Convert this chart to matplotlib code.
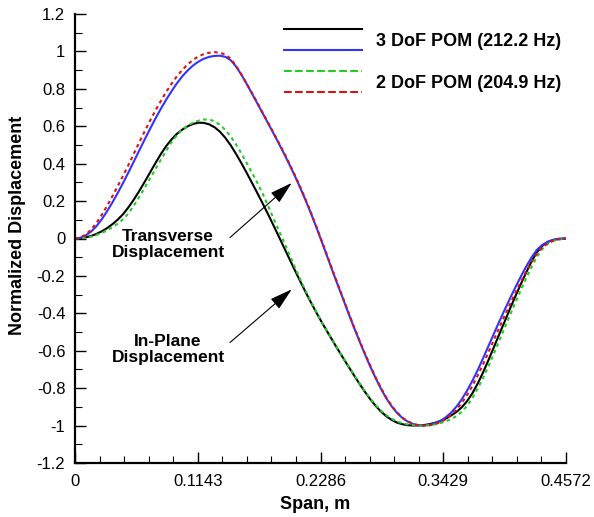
import matplotlib
matplotlib.use("Agg")
import matplotlib.pyplot as plt
from matplotlib.legend_handler import HandlerBase
from matplotlib.lines import Line2D
from matplotlib.ticker import MultipleLocator, FixedLocator

plt.rcParams['font.family'] = ['Liberation Sans', 'DejaVu Sans']

# ---------------- data ----------------
x_ticks = [0, 0.1143, 0.2286, 0.3429, 0.4572]
x_tick_labels = ["0", "0.1143", "0.2286", "0.3429", "0.4572"]
y_ticks = [-1.2, -1.0, -0.8, -0.6, -0.4, -0.2, 0, 0.2, 0.4, 0.6, 0.8, 1.0, 1.2]
y_tick_labels = ["-1.2", "-1", "-0.8", "-0.6", "-0.4", "-0.2", "0", "0.2", "0.4", "0.6", "0.8", "1", "1.2"]

# span positions (m)
span = [0.000, 0.005, 0.010, 0.015, 0.020, 0.025, 0.030, 0.035, 0.040, 0.045,
        0.050, 0.055, 0.060, 0.065, 0.070, 0.075, 0.080, 0.085, 0.090, 0.095,
        0.100, 0.105, 0.110, 0.115, 0.120, 0.125, 0.130, 0.135, 0.140, 0.145,
        0.150, 0.155, 0.160, 0.165, 0.170, 0.175, 0.180, 0.185, 0.190, 0.195,
        0.200, 0.205, 0.210, 0.215, 0.220, 0.225, 0.230, 0.235, 0.240, 0.245,
        0.250, 0.255, 0.260, 0.265, 0.270, 0.275, 0.280, 0.285, 0.290, 0.295,
        0.300, 0.305, 0.310, 0.315, 0.320, 0.325, 0.330, 0.335, 0.340, 0.345,
        0.350, 0.355, 0.360, 0.365, 0.370, 0.375, 0.380, 0.385, 0.390, 0.395,
        0.400, 0.405, 0.410, 0.415, 0.420, 0.425, 0.430, 0.435, 0.440, 0.445,
        0.450, 0.4572]

# 3 DoF transverse (blue)
y_3t = [0.000, 0.004, 0.0165, 0.037, 0.066, 0.103, 0.147, 0.1945, 0.2455, 0.2995,
        0.356, 0.414, 0.4725, 0.5305, 0.587, 0.642, 0.694, 0.743, 0.788, 0.8305,
        0.8675, 0.899, 0.925, 0.9455, 0.961, 0.971, 0.976, 0.977, 0.971, 0.953,
        0.919, 0.875, 0.825, 0.7725, 0.7195, 0.6665, 0.6135, 0.560, 0.5055, 0.4495,
        0.3915, 0.331, 0.2675, 0.2005, 0.130, 0.056, -0.0205, -0.0985, -0.1765, -0.2535,
        -0.3285, -0.405, -0.479, -0.550, -0.619, -0.685, -0.747, -0.804, -0.855, -0.898,
        -0.933, -0.960, -0.979, -0.992, -0.999, -1.000, -0.9965, -0.9885, -0.9755, -0.957,
        -0.932, -0.900, -0.8605, -0.814, -0.761, -0.7035, -0.640, -0.575, -0.5095, -0.445,
        -0.382, -0.321, -0.262, -0.205, -0.151, -0.102, -0.061, -0.035, -0.018, -0.008,
        -0.002, 0.000]

# 2 DoF transverse (red, dashed)
y_2t = [0.000, 0.005, 0.021, 0.047, 0.083, 0.127, 0.176, 0.228, 0.282, 0.338,
        0.396, 0.456, 0.516, 0.574, 0.631, 0.685, 0.736, 0.784, 0.828, 0.868,
        0.902, 0.931, 0.955, 0.973, 0.986, 0.993, 0.996, 0.993, 0.983, 0.961,
        0.923, 0.876, 0.826, 0.776, 0.723, 0.670, 0.617, 0.564, 0.5095, 0.4535,
        0.3955, 0.335, 0.2715, 0.2045, 0.134, 0.060, -0.0165, -0.0945, -0.1725, -0.2495,
        -0.3245, -0.401, -0.475, -0.546, -0.615, -0.681, -0.743, -0.800, -0.852, -0.895,
        -0.931, -0.958, -0.978, -0.991, -0.998, -1.000, -0.9985, -0.993, -0.983, -0.966,
        -0.945, -0.916, -0.880, -0.8375, -0.788, -0.732, -0.672, -0.608, -0.542, -0.477,
        -0.4135, -0.3515, -0.2915, -0.2335, -0.178, -0.1265, -0.0815, -0.048, -0.026, -0.013,
        -0.005, 0.000]

# 3 DoF in-plane (black)
y_3i = [0.000, 0.0015, 0.006, 0.0135, 0.0245, 0.0385, 0.056, 0.077, 0.102, 0.1315,
        0.1685, 0.210, 0.2555, 0.304, 0.354, 0.404, 0.452, 0.4945, 0.5305, 0.560,
        0.5825, 0.600, 0.6125, 0.619, 0.618, 0.610, 0.5945, 0.5705, 0.538, 0.498,
        0.452, 0.402, 0.3495, 0.2955, 0.2405, 0.1845, 0.127, 0.068, 0.008, -0.0525,
        -0.113, -0.173, -0.232, -0.2895, -0.345, -0.3985, -0.4495, -0.499, -0.5475, -0.595,
        -0.6415, -0.6875, -0.733, -0.7775, -0.820, -0.8595, -0.895, -0.9255, -0.9505, -0.970,
        -0.9845, -0.993, -0.998, -1.000, -0.999, -0.997, -0.9925, -0.9855, -0.976, -0.9635,
        -0.947, -0.928, -0.903, -0.870, -0.8275, -0.7755, -0.7155, -0.650, -0.5815, -0.5125,
        -0.445, -0.376, -0.3097, -0.2454, -0.1831, -0.1243, -0.074, -0.040, -0.019, -0.008,
        -0.002, 0.000]

# 2 DoF in-plane (green, dashed)
y_2i = [0.000, 0.001, 0.004, 0.010, 0.019, 0.030, 0.044, 0.061, 0.080, 0.104,
        0.136, 0.178, 0.224, 0.272, 0.322, 0.372, 0.422, 0.470, 0.516, 0.553,
        0.583, 0.604, 0.619, 0.630, 0.636, 0.635, 0.627, 0.6075, 0.5805, 0.545,
        0.502, 0.454, 0.402, 0.3495, 0.2955, 0.236, 0.172, 0.106, 0.040, -0.025,
        -0.090, -0.157, -0.222, -0.283, -0.341, -0.396, -0.448, -0.497, -0.5455, -0.593,
        -0.639, -0.685, -0.730, -0.7745, -0.817, -0.856, -0.891, -0.921, -0.945, -0.964,
        -0.978, -0.988, -0.994, -0.998, -1.000, -1.000, -0.998, -0.994, -0.987, -0.978,
        -0.966, -0.950, -0.927, -0.895, -0.853, -0.8015, -0.7455, -0.6828, -0.6158, -0.547,
        -0.4788, -0.4105, -0.343, -0.2776, -0.2143, -0.1537, -0.099, -0.057, -0.0295, -0.0135,
        -0.005, 0.000]

label_3 = "3 DoF POM (212.2 Hz)"
label_2 = "2 DoF POM (204.9 Hz)"
note_t = "Transverse\nDisplacement"
note_i = "In-Plane\nDisplacement"

# ---------------- figure ----------------
fig = plt.figure(figsize=(5.94, 5.17), dpi=100)
ax = fig.add_axes([75 / 594, 1 - 463 / 517, (566 - 75) / 594, (463 - 14) / 517])

dash = (0, (1.7, 1.7))
l_3i, = ax.plot(span, y_3i, color='black', lw=1.5)
l_3t, = ax.plot(span, y_3t, color='#3333FF', lw=1.5)
l_2i, = ax.plot(span, y_2i, color='#22CC22', lw=1.5, ls=dash)
l_2t, = ax.plot(span, y_2t, color='#DD1111', lw=1.5, ls=dash)

ax.set_xlim(0, 0.4572)
ax.set_ylim(-1.2, 1.2)
ax.xaxis.set_major_locator(FixedLocator(x_ticks))
ax.set_xticklabels(x_tick_labels)
ax.xaxis.set_minor_locator(MultipleLocator(0.4572 / 20))
ax.yaxis.set_major_locator(FixedLocator(y_ticks))
ax.set_yticklabels(y_tick_labels)
ax.yaxis.set_minor_locator(MultipleLocator(0.1))

for s in ['top', 'right']:
    ax.spines[s].set_visible(False)
for s in ['left', 'bottom']:
    ax.spines[s].set_linewidth(1.6)

ax.tick_params(which='major', direction='in', length=8, width=1.0, labelsize=12)
ax.tick_params(axis='x', which='major', pad=8)
ax.tick_params(axis='y', which='major', pad=7)
ax.tick_params(which='minor', direction='in', length=5, width=0.8)

ax.set_xlabel("Span, m", fontsize=13, fontweight='bold', labelpad=5)
ax.set_ylabel("Normalized Displacement", fontsize=13, fontweight='bold', labelpad=8)
ax.xaxis.label.set_x((315 - 75) / 491)
ax.yaxis.label.set_y(1 - (225 - 14) / 449)


class StackHandler(HandlerBase):
    def create_artists(self, legend, orig_handle, xdescent, ydescent, width, height,
                       fontsize, trans):
        arts = []
        mid = 0.36 * fontsize
        offs = [7.56, -7.56]
        for h, d in zip(orig_handle, offs):
            y = mid + d
            ln = Line2D([-xdescent, width - xdescent], [y, y], color=h.get_color(),
                        lw=h.get_linewidth(), ls=h.get_linestyle())
            ln.set_transform(trans)
            arts.append(ln)
        return arts


leg = ax.legend([(l_3i, l_3t), (l_2i, l_2t)], [label_3, label_2],
                handler_map={tuple: StackHandler()},
                loc='upper left', bbox_to_anchor=(284 / 594, 1 - 20 / 517),
                bbox_transform=fig.transFigure, frameon=False,
                prop={'size': 13, 'weight': 'bold'},
                handlelength=78 / (13 * 100 / 72), handleheight=3.2, labelspacing=0.0,
                handletextpad=14 / (13 * 100 / 72), borderpad=0, borderaxespad=0)

ax.text(0.0866, -0.032, note_t, ha='center', va='center',
        fontsize=12.5, fontweight='bold', linespacing=1.1)
ax.text(0.0866, -0.595, note_i, ha='center', va='center',
        fontsize=12.5, fontweight='bold', linespacing=1.1)

ap = dict(arrowstyle='-|>,head_length=1.4,head_width=0.4', mutation_scale=10,
          color='black', lw=0.8, shrinkA=0, shrinkB=0)
ax.annotate('', xy=(0.2018, 0.297), xytext=(0.1443, 0.005), arrowprops=ap)
ax.annotate('', xy=(0.2018, -0.272), xytext=(0.1443, -0.556), arrowprops=ap)

fig.savefig("out.png", dpi=100)
